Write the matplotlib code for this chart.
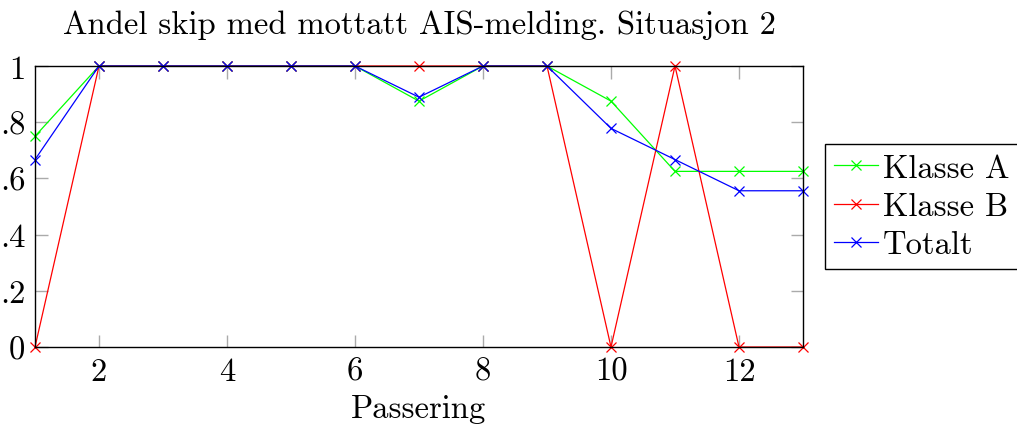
import matplotlib
matplotlib.use("Agg")
import matplotlib.pyplot as plt

plt.rcParams['font.family'] = ['cmr10', 'DejaVu Serif']
plt.rcParams['axes.formatter.use_mathtext'] = True

passering = [1, 2, 3, 4, 5, 6, 7, 8, 9, 10, 11, 12, 13]
klasse_a = [0.75, 1, 1, 1, 1, 1, 0.875, 1, 1, 0.875, 0.625, 0.625, 0.625]
klasse_b = [0, 1, 1, 1, 1, 1, 1, 1, 1, 0, 1, 0, 0]
totalt = [0.667, 1, 1, 1, 1, 1, 0.889, 1, 1, 0.778, 0.667, 0.556, 0.556]

x_ticks = [2, 4, 6, 8, 10, 12]
y_ticks = [0, 0.2, 0.4, 0.6, 0.8, 1]
y_tick_labels = ["0", ".2", ".4", ".6", ".8", "1"]

FS = 23.5

fig = plt.figure(figsize=(10.17, 4.35), dpi=100)
ax = fig.add_axes([35 / 1017, 1 - 348 / 435, (803 - 35) / 1017, (348 - 67) / 435])

series = [("Klasse A", klasse_a, (0, 1, 0)),
          ("Klasse B", klasse_b, (1, 0, 0)),
          ("Totalt", totalt, (0, 0, 1))]
for name, vals, col in series:
    ax.plot(passering, vals, color=col, lw=0.9, marker='x', ms=6.5, mew=0.9,
            label=name, clip_on=False)

ax.set_xlim(1, 13)
ax.set_ylim(0, 1)
ax.set_xticks(x_ticks)
ax.set_xticklabels([str(t) for t in x_ticks])
ax.set_yticks(y_ticks)
ax.set_yticklabels(y_tick_labels)
ax.tick_params(direction='in', length=9, width=1, color='#aaaaaa',
               top=True, right=True, labelsize=FS, pad=7)
for s in ax.spines.values():
    s.set_linewidth(1)

ax.set_title("Andel skip med mottatt AIS-melding. Situasjon 2", fontsize=FS, pad=24)
ax.set_xlabel("Passering", fontsize=FS, labelpad=6)

leg = ax.legend(loc='center left', bbox_to_anchor=(1.028, 0.5), fontsize=FS,
                frameon=True, fancybox=False, edgecolor='black', framealpha=1,
                handlelength=1.35, handletextpad=0.15, borderpad=0.3,
                labelspacing=0.28, borderaxespad=0)
leg.get_frame().set_linewidth(1)

fig.savefig("out.png", dpi=100)
